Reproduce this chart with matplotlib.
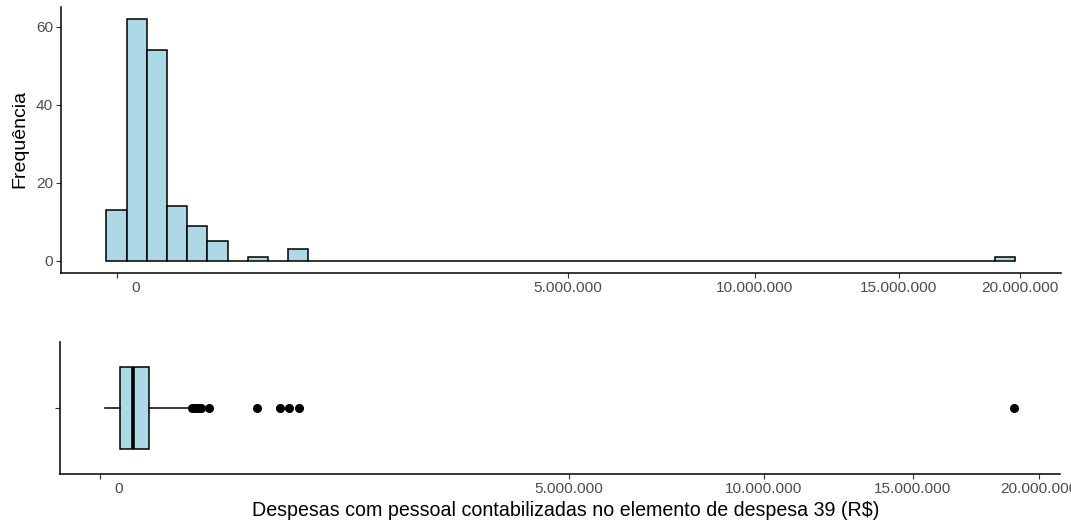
import numpy as np
import matplotlib
matplotlib.use("Agg")
import matplotlib.pyplot as plt
from matplotlib.transforms import ScaledTranslation

plt.rcParams['font.family'] = ['Liberation Sans', 'DejaVu Sans']

# histogram counts, bins of width 100 on the sqrt(R$) scale, centred on 0, 100, 200, ...
bin_width = 100
hist_counts = [13, 62, 54, 14, 9, 5, 0, 1, 0, 3,
               0, 0, 0, 0, 0, 0, 0, 0, 0, 0,
               0, 0, 0, 0, 0, 0, 0, 0, 0, 0,
               0, 0, 0, 0, 0, 0, 0, 0, 0, 0,
               0, 0, 0, 0, 1]

# boxplot summary (R$)
box_low = 700
box_q1 = 9300
box_med = 24500
box_q3 = 54300
box_high = 182500
box_outliers = [190800, 203500, 216600, 230100, 269700,
                560000, 734000, 810000, 898000, 18980000]

x_ticks = [0, 5000000, 10000000, 15000000, 20000000]
x_labels = ['0', '5.000.000', '10.000.000', '15.000.000', '20.000.000']
y_ticks = [0, 20, 40, 60]


def fwd(x):
    x = np.asarray(x, dtype=float)
    return np.sign(x) * np.sqrt(np.abs(x))


def inv(y):
    y = np.asarray(y, dtype=float)
    return np.sign(y) * y ** 2


W, H = 1071, 522
fig = plt.figure(figsize=(W / 100, H / 100), dpi=100)
ax1 = fig.add_axes([61 / W, 1 - 272.7 / H, (1060.5 - 61) / W, (272.7 - 7) / H])
ax2 = fig.add_axes([60 / W, 1 - 474 / H, (1060 - 60) / W, (474 - 342) / H])

fill = '#ADD8E6'
tick_col = '#4D4D4D'

# histogram
centers = np.arange(len(hist_counts)) * bin_width
lefts = inv(centers - bin_width / 2)
rights = inv(centers + bin_width / 2)
ax1.set_xscale('function', functions=(fwd, inv))
ax1.bar(lefts, hist_counts, width=rights - lefts, align='edge',
        color=fill, edgecolor='black', linewidth=1.1)
ax1.set_xlim(inv(-275), inv(4675))
ax1.set_ylim(-3.1, 65.1)
ax1.set_yticks(y_ticks)

# boxplot
ax2.set_xscale('function', functions=(fwd, inv))
stats = [dict(whislo=box_low, q1=box_q1, med=box_med, q3=box_q3,
              whishi=box_high, fliers=box_outliers)]
ax2.bxp(stats, positions=[1], widths=0.75, vert=False, patch_artist=True,
        showcaps=False,
        boxprops=dict(facecolor=fill, edgecolor='black', linewidth=1.1),
        medianprops=dict(color='black', linewidth=2.6),
        whiskerprops=dict(color='black', linewidth=1.1),
        flierprops=dict(marker='o', markerfacecolor='black',
                        markeredgecolor='black', markersize=5.5))
ax2.set_xlim(inv(-190), inv(4574))
ax2.set_ylim(0.4, 1.6)
ax2.set_yticks([1])
ax2.set_yticklabels([''])

for ax in (ax1, ax2):
    ax.set_xticks(x_ticks)
    ax.set_xticklabels(x_labels)
    ax.minorticks_off()
    for s in ('top', 'right'):
        ax.spines[s].set_visible(False)
    for s in ('left', 'bottom'):
        ax.spines[s].set_linewidth(1.1)
        ax.spines[s].set_color('black')
    ax.tick_params(length=3.5, width=0.8, color='#333333', labelcolor=tick_col,
                   labelsize=11.1, pad=2.2)
    ax.set_facecolor('white')
    # the zero label sits a little to the right of its tick
    for lab in ax.get_xticklabels():
        if lab.get_text() == '0':
            lab.set_transform(lab.get_transform() +
                              ScaledTranslation(0.19, 0, fig.dpi_scale_trans))

fig.text(20 / W, 1 - 139 / H, 'Frequência', rotation=90,
         ha='center', va='center', fontsize=14)
fig.text(566 / W, 1 - 511 / H,
         'Despesas com pessoal contabilizadas no elemento de despesa 39 (R$)',
         ha='center', va='center', fontsize=14.1)

fig.savefig('out.png', dpi=100)
